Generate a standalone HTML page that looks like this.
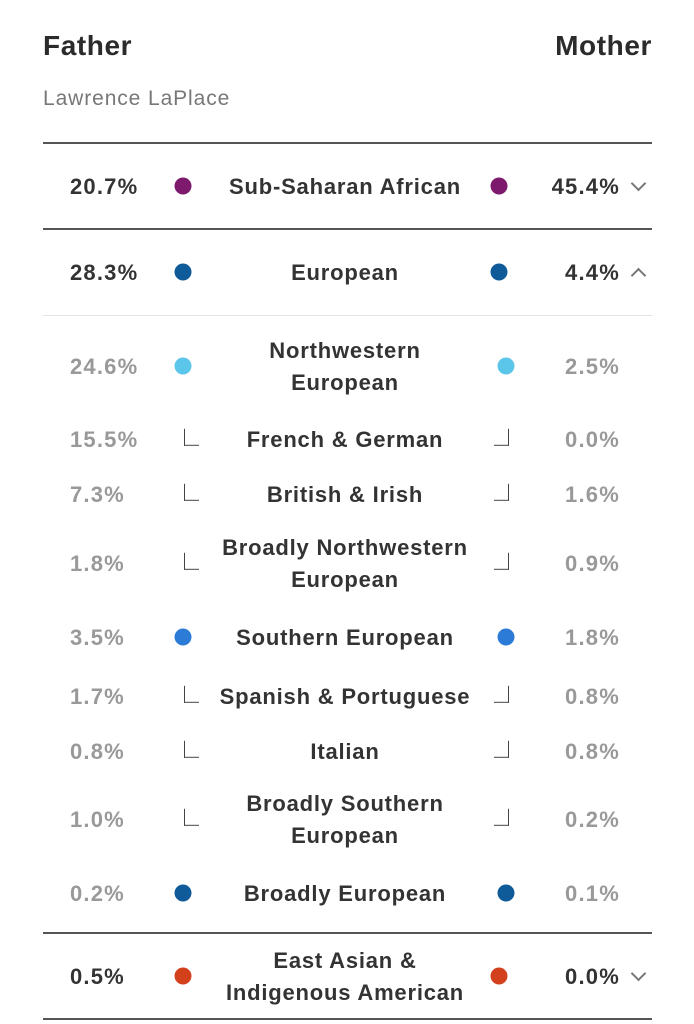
<!DOCTYPE html>
<html><head><style>
body{margin:0;width:694px;height:1024px;background:#fff;font-family:"Liberation Sans",sans-serif;position:relative;overflow:hidden;color:#333}
.a{position:absolute}
.h{font-weight:bold;font-size:28px;letter-spacing:0.6px;top:30px;color:#2b2b2b}
.line{position:absolute;left:43px;width:609px;height:2px;background:#555}
.row{position:absolute;left:0;width:694px;height:0}
.l{position:absolute;left:70px;transform:translateY(-50%);font-weight:bold;font-size:22px;letter-spacing:1.2px;margin-top:1px}
.r{position:absolute;right:74px;transform:translateY(-50%);font-weight:bold;font-size:22px;letter-spacing:1.2px;margin-top:1px}
.g{color:#999}
.lab{position:absolute;left:175px;width:340px;text-align:center;transform:translateY(-50%);font-weight:bold;font-size:22px;letter-spacing:0.8px;line-height:32px;color:#333;margin-top:1px}
.d{position:absolute;width:17px;height:17px;border-radius:50%;transform:translate(-50%,-50%)}
.bl{position:absolute;left:184px;width:14px;height:16px;border-left:1.5px solid #444;border-bottom:1.5px solid #444;transform:translateY(-60%)}
.br{position:absolute;left:494px;width:14px;height:16px;border-right:1.5px solid #444;border-bottom:1.5px solid #444;transform:translateY(-60%)}
.ch{position:absolute;left:633px;width:9px;height:9px;border-right:2px solid #777;border-bottom:2px solid #777}
</style></head><body>
<div class="a h" style="left:43px">Father</div>
<div class="a h" style="right:42px">Mother</div>
<div class="a" style="left:43px;top:87px;font-size:21px;letter-spacing:0.9px;color:#777">Lawrence LaPlace</div>
<div class="line" style="top:142px"></div>
<div class="line" style="top:228px"></div>
<div class="line" style="top:315px;height:1px;background:#e4e4e4"></div>
<div class="line" style="top:932px"></div>
<div class="line" style="top:1018px"></div>

<div class="row" style="top:186px"><span class="l">20.7%</span><span class="d" style="left:183px;background:#7e1a6e"></span><span class="lab">Sub-Saharan African</span><span class="d" style="left:499px;background:#7e1a6e"></span><span class="r">45.4%</span><span class="ch" style="top:-8px;transform:rotate(45deg)"></span></div>
<div class="row" style="top:272px"><span class="l">28.3%</span><span class="d" style="left:183px;background:#0f5a98"></span><span class="lab">European</span><span class="d" style="left:499px;background:#0f5a98"></span><span class="r">4.4%</span><span class="ch" style="top:-2px;transform:rotate(225deg)"></span></div>
<div class="row" style="top:366px"><span class="l g">24.6%</span><span class="d" style="left:183px;background:#5bc6ea"></span><span class="lab">Northwestern<br>European</span><span class="d" style="left:506px;background:#5bc6ea"></span><span class="r g">2.5%</span></div>
<div class="row" style="top:439px"><span class="l g">15.5%</span><span class="bl"></span><span class="lab">French &amp; German</span><span class="br"></span><span class="r g">0.0%</span></div>
<div class="row" style="top:494px"><span class="l g">7.3%</span><span class="bl"></span><span class="lab">British &amp; Irish</span><span class="br"></span><span class="r g">1.6%</span></div>
<div class="row" style="top:563px"><span class="l g">1.8%</span><span class="bl"></span><span class="lab">Broadly Northwestern<br>European</span><span class="br"></span><span class="r g">0.9%</span></div>
<div class="row" style="top:637px"><span class="l g">3.5%</span><span class="d" style="left:183px;background:#2c7bd6"></span><span class="lab">Southern European</span><span class="d" style="left:506px;background:#2c7bd6"></span><span class="r g">1.8%</span></div>
<div class="row" style="top:696px"><span class="l g">1.7%</span><span class="bl"></span><span class="lab">Spanish &amp; Portuguese</span><span class="br"></span><span class="r g">0.8%</span></div>
<div class="row" style="top:751px"><span class="l g">0.8%</span><span class="bl"></span><span class="lab">Italian</span><span class="br"></span><span class="r g">0.8%</span></div>
<div class="row" style="top:819px"><span class="l g">1.0%</span><span class="bl"></span><span class="lab">Broadly Southern<br>European</span><span class="br"></span><span class="r g">0.2%</span></div>
<div class="row" style="top:893px"><span class="l g">0.2%</span><span class="d" style="left:183px;background:#0f5a98"></span><span class="lab">Broadly European</span><span class="d" style="left:506px;background:#0f5a98"></span><span class="r g">0.1%</span></div>
<div class="row" style="top:976px"><span class="l">0.5%</span><span class="d" style="left:183px;background:#d2401c"></span><span class="lab">East Asian &amp;<br>Indigenous American</span><span class="d" style="left:499px;background:#d2401c"></span><span class="r">0.0%</span><span class="ch" style="top:-8px;transform:rotate(45deg)"></span></div>
</body></html>
